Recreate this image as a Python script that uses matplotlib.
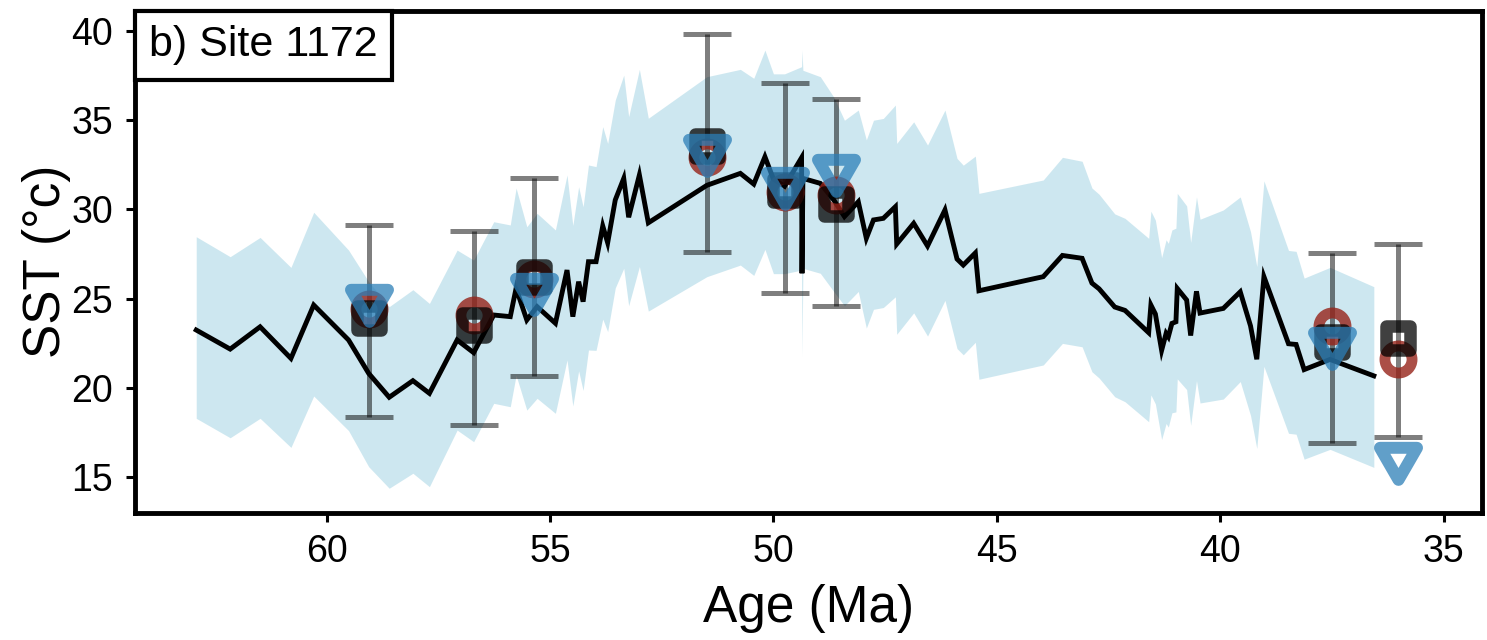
import matplotlib
matplotlib.use("Agg")
import matplotlib.pyplot as plt
import numpy as np
from matplotlib.markers import MarkerStyle
from matplotlib.offsetbox import AnchoredText
from matplotlib.path import Path

plt.rcParams["font.family"] = ["Liberation Sans", "DejaVu Sans"]

# ---------------------------------------------------------------------------
# Model SST (black line) and its uncertainty band
# ---------------------------------------------------------------------------
age_model = [62.92, 62.16, 61.49, 60.80, 60.29, 59.51, 59.06, 58.60, 58.07, 57.70,
             57.08, 56.71, 56.26, 55.89, 55.76, 55.52, 55.29, 54.88, 54.62, 54.49,
             54.36, 54.26, 54.14, 53.97, 53.82, 53.71, 53.54, 53.35, 53.24, 53.00,
             52.80, 51.49, 50.74, 50.44, 50.19, 50.00, 49.75, 49.37, 49.36, 49.34,
             48.95, 48.65, 48.41, 48.10, 47.92, 47.76, 47.54, 47.27, 47.24, 46.86,
             46.55, 46.16, 45.89, 45.75, 45.48, 45.40, 43.96, 43.53, 43.09, 42.87,
             42.71, 42.36, 42.13, 41.60, 41.55, 41.45, 41.31, 41.21, 41.16, 41.08,
             40.99, 40.96, 40.75, 40.66, 40.53, 40.45, 39.93, 39.55, 39.32, 39.18,
             39.02, 38.47, 38.30, 38.12, 37.54, 36.56]
sst_model = [23.24, 22.17, 23.42, 21.65, 24.64, 22.68, 20.81, 19.47, 20.40, 19.69,
             22.68, 21.97, 24.08, 23.99, 25.58, 23.80, 24.55, 23.62, 26.60, 23.99,
             25.95, 24.83, 27.07, 27.07, 29.07, 28.13, 30.53, 31.74, 29.56, 31.93,
             29.25, 31.35, 32.02, 31.42, 32.95, 31.70, 31.30, 32.90, 26.42, 31.74,
             31.46, 30.53, 29.60, 30.43, 28.38, 29.41, 29.50, 30.15, 28.06, 29.22,
             27.95, 29.97, 27.22, 26.88, 27.56, 25.44, 26.23, 27.42, 27.26, 25.87,
             25.55, 24.53, 24.34, 23.09, 24.64, 24.14, 22.10, 23.05, 22.86, 23.61,
             23.70, 25.57, 24.92, 22.93, 25.41, 24.19, 24.45, 25.38, 23.47, 21.60,
             26.23, 22.47, 22.43, 21.02, 21.59, 20.67]
sst_upper = [28.47, 27.35, 28.43, 26.75, 29.84, 27.72, 25.95, 24.55, 25.50, 24.73,
             27.72, 27.16, 29.31, 29.13, 31.20, 29.03, 29.78, 28.85, 31.93, 29.10,
             31.27, 30.15, 32.49, 32.40, 34.64, 33.70, 36.13, 37.53, 35.20, 37.85,
             35.11, 37.44, 37.85, 37.35, 38.93, 37.60, 37.60, 38.00, 38.93, 37.80,
             37.44, 36.30, 35.00, 35.57, 33.90, 35.00, 35.10, 35.85, 33.70, 34.91,
             33.61, 35.57, 32.86, 32.48, 32.99, 30.90, 31.65, 32.92, 32.70, 31.20,
             30.85, 29.75, 29.50, 28.38, 29.90, 29.40, 27.30, 28.30, 28.10, 28.85,
             28.95, 30.90, 30.20, 28.15, 30.70, 29.45, 29.97, 30.70, 28.75, 26.80,
             31.60, 27.70, 27.65, 26.15, 26.75, 25.67]
sst_lower = [18.29, 17.20, 18.29, 16.66, 19.54, 17.60, 15.58, 14.37, 15.21, 14.46,
             17.63, 16.98, 19.13, 18.94, 20.70, 18.75, 19.41, 18.57, 21.56, 18.98,
             20.95, 19.85, 22.12, 22.10, 23.85, 23.15, 25.60, 26.70, 24.60, 26.80,
             24.30, 26.23, 26.88, 26.30, 27.76, 26.40, 26.40, 26.60, 21.74, 26.70,
             26.42, 25.40, 24.60, 25.40, 23.35, 24.40, 24.50, 25.10, 23.00, 24.20,
             22.90, 24.90, 22.20, 21.85, 22.55, 20.48, 21.28, 22.49, 22.30, 20.90,
             20.55, 19.50, 19.22, 18.10, 19.60, 19.10, 17.10, 18.00, 17.80, 18.60,
             18.65, 20.50, 19.90, 17.90, 20.40, 19.15, 19.37, 20.35, 18.45, 16.60,
             21.20, 17.45, 17.40, 16.00, 16.55, 15.54]

# ---------------------------------------------------------------------------
# Proxy estimates at the site (three methods) with a shared error bar
# ---------------------------------------------------------------------------
age_proxy = [59.06, 56.71, 55.35, 51.49, 49.74, 48.60, 37.50, 36.01]
err_low = [18.38, 17.91, 20.66, 27.63, 25.30, 24.60, 16.89, 17.26]
err_high = [29.13, 28.81, 31.74, 39.83, 37.07, 36.19, 27.54, 28.06]
sst_square = [23.90, 23.50, 26.22, 33.54, 31.10, 30.32, 22.57, 22.78]
sst_circle = [24.41, 24.10, 26.10, 32.95, 30.95, 30.81, 23.47, 21.60]
sst_triangle = [24.95, np.nan, 25.53, 33.35, 31.50, 32.20, 22.52, 16.07]

fig = plt.figure(figsize=(14.87, 6.40), dpi=100)
ax = fig.add_axes([0.0905, 0.1992, 0.9061, 0.7841])

ax.fill_between(age_model, sst_lower, sst_upper, color="lightblue", alpha=0.6,
                linewidth=0, zorder=1)
ax.plot(age_model, sst_model, color="black", lw=3.5, solid_joinstyle="miter",
        zorder=2)

lo = np.array(err_low)
hi = np.array(err_high)
mid = (lo + hi) / 2
ax.errorbar(age_proxy, mid, yerr=(hi - lo) / 2, fmt="none", ecolor="black",
            alpha=0.5, elinewidth=3.6, capsize=17, capthick=3.6, zorder=3)

tri = Path([(-1, 0.577), (1, 0.577), (0, -1.155), (-1, 0.577)], closed=True)

ax.plot(age_proxy, sst_circle, ls="none",
        marker=MarkerStyle("o", joinstyle="round"), ms=19.5, mew=7.8,
        mfc="none", mec="#962319", alpha=0.8, zorder=4)
ax.plot(age_proxy, sst_square, ls="none",
        marker=MarkerStyle("s", joinstyle="round"), ms=17, mew=9,
        mfc="none", mec="black", alpha=0.75, zorder=5)
ax.plot(age_proxy, sst_triangle, ls="none",
        marker=MarkerStyle(tri, joinstyle="round"), ms=30.8, mew=8.6,
        mfc="none", mec="#2c7fb8", alpha=0.75, zorder=6)

ax.set_xlim(64.30, 34.14)
ax.set_ylim(13.01, 41.14)
ax.set_xticks([60, 55, 50, 45, 40, 35])
ax.set_yticks([15, 20, 25, 30, 35, 40])

for sp in ax.spines.values():
    sp.set_linewidth(3.5)
    sp.set_color("black")
ax.tick_params(axis="both", length=6.5, width=2.2, labelsize=27, pad=9,
               color="black", labelcolor="black")

ax.set_xlabel("Age (Ma)", fontsize=37, labelpad=10)
ax.set_ylabel("SST (°c)", fontsize=37, labelpad=0)

at = AnchoredText("b) Site 1172", loc="upper left", pad=0.34, borderpad=0,
                  prop=dict(size=31), frameon=True)
at.patch.set_linewidth(3)
at.patch.set_edgecolor("black")
at.zorder = 10
ax.add_artist(at)

fig.savefig("out.png", dpi=100)
